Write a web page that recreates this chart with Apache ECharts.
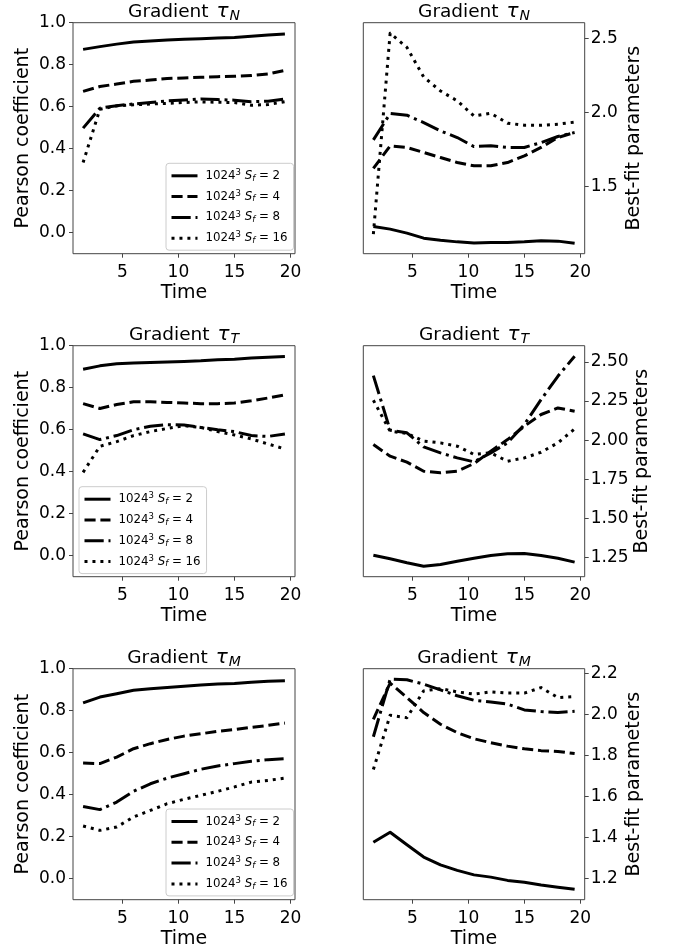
<!DOCTYPE html>
<html><head><meta charset="utf-8">
<script src="https://cdn.jsdelivr.net/npm/echarts@6/dist/echarts.min.js"></script>
<style>html,body{margin:0;padding:0;background:#fff}#c{width:678px;height:952px}</style>
</head><body><div id="c"></div><script>
// ---- data ----
const time = [1.5,3,4.5,6,7.5,9,10.5,12,13.5,15,16.5,18,19.5];
const sfValues = ['2','4','8','16'];
const panelSubs = ['N','T','M'];

const pearsonN_sf2  = [0.873,0.886,0.898,0.908,0.913,0.918,0.921,0.924,0.927,0.930,0.935,0.941,0.946];
const pearsonN_sf4  = [0.673,0.696,0.708,0.721,0.727,0.734,0.737,0.740,0.743,0.745,0.748,0.756,0.773];
const pearsonN_sf8  = [0.498,0.593,0.605,0.613,0.620,0.628,0.632,0.637,0.634,0.631,0.624,0.626,0.637];
const pearsonN_sf16 = [0.334,0.588,0.604,0.609,0.613,0.616,0.620,0.623,0.621,0.620,0.607,0.610,0.624];

const fitN_sf2  = [1.230,1.212,1.185,1.151,1.137,1.126,1.119,1.122,1.122,1.126,1.133,1.131,1.117];
const fitN_sf4  = [1.622,1.775,1.764,1.730,1.696,1.662,1.640,1.640,1.662,1.707,1.764,1.831,1.865];
const fitN_sf8  = [1.815,1.993,1.982,1.932,1.876,1.831,1.770,1.775,1.764,1.764,1.797,1.838,1.865];
const fitN_sf16 = [1.178,2.536,2.440,2.240,2.146,2.079,1.977,1.995,1.928,1.914,1.914,1.921,1.935];

const pearsonT_sf2  = [0.888,0.904,0.914,0.918,0.920,0.922,0.925,0.928,0.933,0.936,0.941,0.945,0.949];
const pearsonT_sf4  = [0.724,0.701,0.720,0.733,0.733,0.730,0.727,0.724,0.724,0.727,0.738,0.751,0.766];
const pearsonT_sf8  = [0.580,0.553,0.572,0.600,0.616,0.624,0.622,0.611,0.600,0.591,0.572,0.568,0.580];
const pearsonT_sf16 = [0.397,0.521,0.543,0.572,0.591,0.606,0.619,0.611,0.591,0.575,0.556,0.532,0.508];

const fitT_sf2  = [1.266,1.243,1.218,1.196,1.207,1.228,1.247,1.264,1.275,1.277,1.264,1.247,1.222];
const fitT_sf4  = [1.972,1.898,1.860,1.802,1.792,1.802,1.851,1.930,2.004,2.089,2.164,2.206,2.185];
const fitT_sf8  = [2.412,2.064,2.047,1.957,1.919,1.887,1.862,1.919,1.983,2.100,2.259,2.408,2.536];
const fitT_sf16 = [2.255,2.057,2.043,1.994,1.983,1.962,1.909,1.919,1.866,1.887,1.923,1.983,2.072];

const pearsonM_sf2  = [0.837,0.865,0.881,0.897,0.905,0.911,0.917,0.922,0.927,0.930,0.935,0.940,0.943];
const pearsonM_sf4  = [0.551,0.548,0.579,0.619,0.643,0.663,0.679,0.690,0.702,0.710,0.721,0.730,0.741];
const pearsonM_sf8  = [0.344,0.329,0.365,0.416,0.452,0.479,0.500,0.521,0.537,0.548,0.559,0.567,0.571];
const pearsonM_sf16 = [0.251,0.230,0.246,0.294,0.325,0.357,0.378,0.397,0.416,0.437,0.460,0.468,0.479];

const fitM_sf2  = [1.376,1.425,1.364,1.304,1.266,1.239,1.217,1.206,1.190,1.181,1.168,1.157,1.147];
const fitM_sf4  = [1.977,2.154,2.083,2.010,1.953,1.912,1.882,1.863,1.846,1.833,1.824,1.820,1.810];
const fitM_sf8  = [1.892,2.173,2.170,2.149,2.121,2.092,2.070,2.062,2.051,2.023,2.015,2.010,2.016];
const fitM_sf16 = [1.732,1.997,1.985,2.116,2.127,2.111,2.100,2.111,2.105,2.105,2.132,2.083,2.088];

// tick labels
const xTicks = [5,10,15,20];
const pearsonTicks = [0.0,0.2,0.4,0.6,0.8,1.0];
const fitTicksN = [1.5,2.0,2.5];
const fitTicksT = [1.25,1.50,1.75,2.00,2.25,2.50];
const fitTicksM = [1.2,1.4,1.6,1.8,2.0,2.2];

// ---- layout / style ----
const FONT = 'DejaVu Sans';
const gridLeft = [73, 363.3];
const gridW = [222, 221.4];
const gridTop = [22.7, 345.7, 668.7];
const gridH = 231;
const legendPos = [[166,163.3],[79,486.7],[166,809]];
const dashes = ['solid',[11.1,4.8],[19.2,4.8,3,4.8],[3,4.95]];

const panels = [
  {col:0,row:0,data:[pearsonN_sf2,pearsonN_sf4,pearsonN_sf8,pearsonN_sf16],ticks:pearsonTicks,dec:1,fixed:[-0.1,1.0]},
  {col:1,row:0,data:[fitN_sf2,fitN_sf4,fitN_sf8,fitN_sf16],ticks:fitTicksN,dec:1},
  {col:0,row:1,data:[pearsonT_sf2,pearsonT_sf4,pearsonT_sf8,pearsonT_sf16],ticks:pearsonTicks,dec:1,fixed:[-0.1,1.0]},
  {col:1,row:1,data:[fitT_sf2,fitT_sf4,fitT_sf8,fitT_sf16],ticks:fitTicksT,dec:2},
  {col:0,row:2,data:[pearsonM_sf2,pearsonM_sf4,pearsonM_sf8,pearsonM_sf16],ticks:pearsonTicks,dec:1,fixed:[-0.1,1.0]},
  {col:1,row:2,data:[fitM_sf2,fitM_sf4,fitM_sf8,fitM_sf16],ticks:fitTicksM,dec:1},
];

const xmin = Math.min(...time), xmax = Math.max(...time), xs = xmax - xmin;
const names = sfValues.map(s => 'Sf' + s);

const grid = [], xAxis = [], yAxis = [], series = [], title = [], legend = [];
panels.forEach((p, i) => {
  const L = gridLeft[p.col], W = gridW[p.col], T = gridTop[p.row];
  grid.push({left:L, top:T, width:W, height:gridH, show:true, borderColor:'#444', borderWidth:1, containLabel:false});
  xAxis.push({
    type:'value', gridIndex:i, min:xmin-0.05*xs, max:xmax+0.05*xs,
    axisLine:{show:false, onZero:false}, splitLine:{show:false},
    axisTick:{show:true, length:4, lineStyle:{color:'#444'}, customValues:xTicks},
    axisLabel:{fontFamily:FONT, fontSize:17, color:'#000', margin:10, customValues:xTicks, formatter:v=>String(v)},
    name:'Time', nameLocation:'middle', nameGap:30, nameTextStyle:{fontFamily:FONT, fontSize:19, color:'#000'}
  });
  let ymin, ymax;
  if (p.fixed) { ymin = p.fixed[0]; ymax = p.fixed[1]; }
  else {
    const all = [].concat(...p.data);
    const lo = Math.min(...all), hi = Math.max(...all), sp = hi - lo;
    ymin = lo - 0.05*sp; ymax = hi + 0.05*sp;
  }
  const right = p.col === 1;
  yAxis.push({
    type:'value', gridIndex:i, min:ymin, max:ymax, position: right ? 'right' : 'left',
    axisLine:{show:false, onZero:false}, splitLine:{show:false},
    axisTick:{show:true, length:4, lineStyle:{color:'#444'}, customValues:p.ticks},
    axisLabel:{fontFamily:FONT, fontSize:17, color:'#000', margin: right ? 6 : 7, customValues:p.ticks, formatter:v=>v.toFixed(p.dec)},
    name: right ? 'Best-fit parameters' : 'Pearson coefficient',
    nameLocation:'middle', nameRotate:90, nameGap: 40,
    nameTextStyle:{fontFamily:FONT, fontSize:19, color:'#000'}
  });
  title.push({
    text:'Gradient {t|τ}{s|' + panelSubs[p.row] + '}',
    left: L + W/2, top: T - 22, textAlign:'center', padding:0,
    textStyle:{fontFamily:FONT, fontSize:18.5, fontWeight:'normal', color:'#000', lineHeight:22,
      rich:{t:{fontFamily:FONT, fontSize:20, fontStyle:'italic', color:'#000', padding:[0,1,0,2]},
            s:{fontFamily:FONT, fontSize:14, fontStyle:'italic', color:'#000', padding:[9,0,0,0]}}}
  });
  p.data.forEach((arr, k) => {
    series.push({
      type:'line', name:names[k], xAxisIndex:i, yAxisIndex:i, symbol:'none', silent:true,
      data: time.map((t, j) => [t, arr[j]]),
      lineStyle:{color:'#000', width:3, type:dashes[k], cap:'butt', join:'round'},
      itemStyle:{color:'#000'}
    });
  });
  if (p.col === 0) {
    const lp = legendPos[p.row];
    legend.push({
      orient:'vertical', left:lp[0], top:lp[1], itemWidth:26, itemHeight:14, itemGap:6.3,
      padding:[5,6,5,4], borderColor:'#ccc', borderWidth:1, borderRadius:3,
      backgroundColor:'rgba(255,255,255,0.8)', selectedMode:false, data:names,
      itemStyle:{opacity:0},
      lineStyle:{width:3, color:'#000'},
      formatter: n => '1024{p|3} {i|S}{b|f} = ' + n.slice(2),
      textStyle:{fontFamily:FONT, fontSize:11.8, color:'#000', padding:[0,0,0,3], lineHeight:14,
        rich:{p:{fontFamily:FONT, fontSize:8.5, color:'#000', padding:[0,0,6,0]},
              i:{fontFamily:FONT, fontSize:11.8, fontStyle:'italic', color:'#000'},
              b:{fontFamily:FONT, fontSize:8.5, fontStyle:'italic', color:'#000', padding:[5,0,0,0]}}}
    });
  }
});

const chart = echarts.init(document.getElementById('c'), null, {renderer:'canvas'});
chart.setOption({animation:false, backgroundColor:'#fff', title, legend, grid, xAxis, yAxis, series});
</script></body></html>
